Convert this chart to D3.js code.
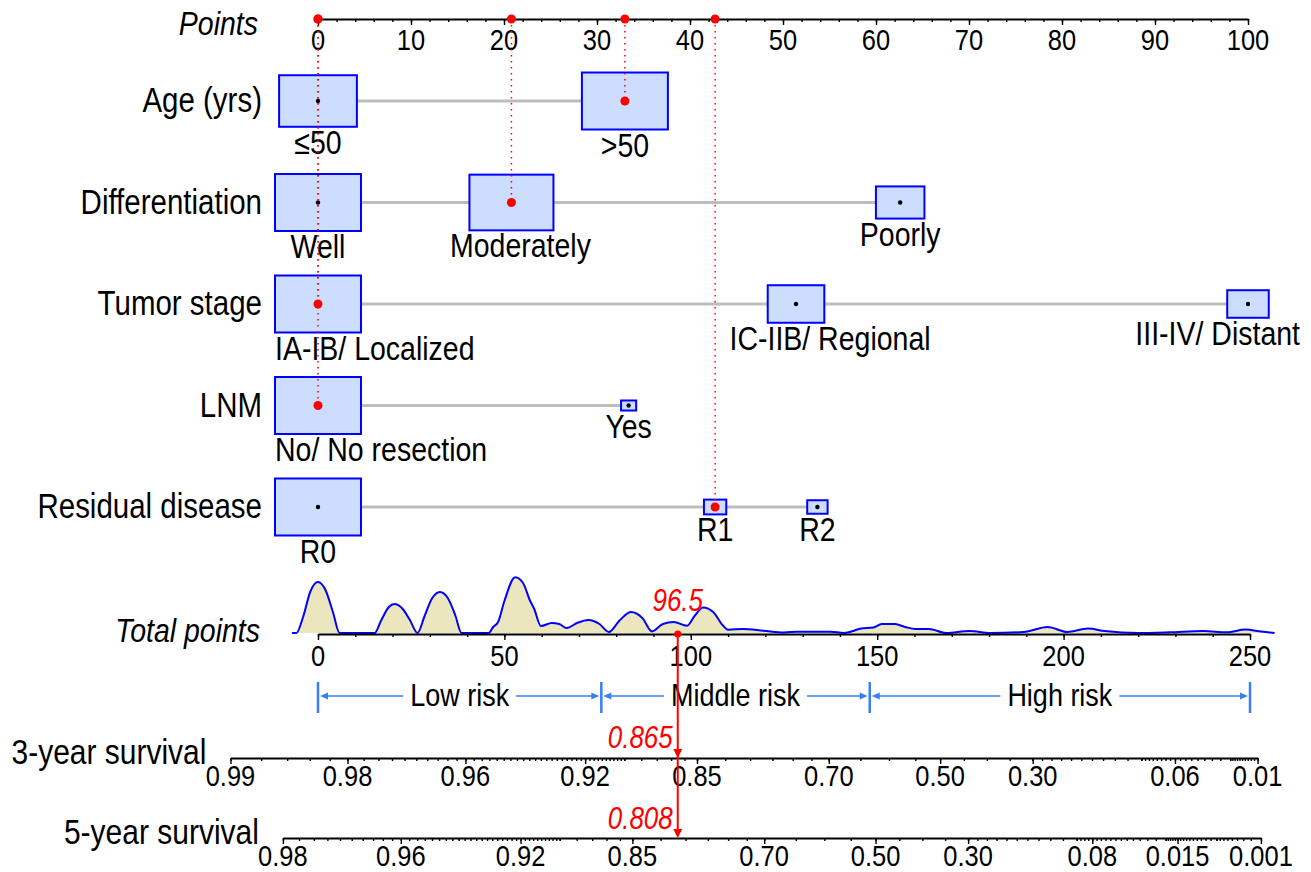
<!DOCTYPE html>
<html><head><meta charset="utf-8">
<script src="https://cdn.jsdelivr.net/npm/d3@7"></script>
<style>body{margin:0;background:#fff} svg{display:block}</style>
</head><body>
<svg id="c" width="1311" height="872"></svg>
<script>
// ---------------- DATA ----------------
const pointTicks = [0,10,20,30,40,50,60,70,80,90,100];
const totalTicks = [0,50,100,150,200,250];

const varNames = ["Age (yrs)", "Differentiation", "Tumor stage", "LNM", "Residual disease"];

const ageLevels = ["\u226450", ">50"];
const agePoints = [0, 33.0];
const ageFreq   = [45, 55];

const diffLevels = ["Well", "Moderately", "Poorly"];
const diffPoints = [0, 20.8, 62.6];
const diffFreq   = [44, 42, 14];

const stageLevels = ["IA-IB/ Localized", "IC-IIB/ Regional", "III-IV/ Distant"];
const stagePoints = [0, 51.4, 100];
const stageFreq   = [60, 26, 14];

const lnmLevels = ["No/ No resection", "Yes"];
const lnmPoints = [0, 33.4];
const lnmFreq   = [97, 3];

const resLevels = ["R0", "R1", "R2"];
const resPoints = [0, 42.7, 53.7];
const resFreq   = [89, 6, 5];

// observation being plotted (index of chosen level per variable)
const selected = [1, 1, 0, 0, 1];

// density of total points in the sample: [total points, relative density]
const densPts = [-7,-5.8,-4,-2,0,2,4,5.8,15.2,17,19,20.5,22.5,24.5,26.7,28.5,30.5,32.7,34.8,36.8,38.5,45.8,47,48.3,50,52.9,55,56.8,58,59.8,62.7,64.7,66.7,69.5,72.5,75.5,78,81,84,87,89.6,92.5,95.4,99,101,103.3,106,108.5,110,114,119.5,125,128.5,137.5,141,145.7,149,151.2,154.8,157.5,160.3,163.9,168.5,174.8,180.3,189.3,195.7,201,206.5,211,220,228.4,237.5,243.8,248.8,253,256.6];
const densVal = [0,0,16,42,51,43,21,0,0,13,26,29,25,14,0,16,34,41,35,18,0,0,6,11,32,55.7,50,33,24,7,10,9,5,10,13,9,1,13,21,15,1.6,9,11,7.3,17,25.5,21,8,3.3,4,2.3,0.5,1.3,1.3,0,4.4,5.5,8.9,8.9,6,3.9,3.9,0,2,0,1,6,1,4.4,2,0,0.7,2,0.7,3.4,1.4,0];

// risk groups (total points cut-offs)
const riskCuts  = [0, 76, 148, 250];
const riskNames = ["Low risk", "Middle risk", "High risk"];

// survival model: survival at 0 points and log-hazard per point
const beta  = 0.02224;
const base3 = 0.9832;
const base5 = 0.9754;
const surv3Labels = [0.99, 0.98, 0.96, 0.92, 0.85, 0.70, 0.50, 0.30, 0.06, 0.01];
const surv5Labels = [0.98, 0.96, 0.92, 0.85, 0.70, 0.50, 0.30, 0.08, 0.015, 0.001];
// minor tick ranges: [from, to, step]
const surv3Minor = [[0.99,0.90,0.002],[0.90,0.85,0.01],[0.85,0.70,0.025],[0.70,0.30,0.05],[0.30,0.10,0.02],[0.10,0.02,0.005],[0.02,0.01,0.001]];
const surv5Minor = [[0.98,0.90,0.002],[0.90,0.85,0.01],[0.85,0.70,0.025],[0.70,0.30,0.05],[0.30,0.10,0.02],[0.10,0.02,0.005],[0.02,0.005,0.001],[0.005,0.001,0.0005]];

// ---------------- LAYOUT ----------------
const FONT = "Arial, 'Liberation Sans', Helvetica, sans-serif";
const K = 1.18; // vertical text stretch
const svg = d3.select("#c");
const RED = "#FF0000", BLUE = "#0000FF", RISKBLUE = "#3A7EF5";

function T(parent, x, y, str, size, anchor, opt) {
  opt = opt || {};
  return parent.append("text")
    .attr("transform", `translate(${x},${y}) scale(1,${K})`)
    .attr("text-anchor", anchor || "start")
    .attr("font-family", FONT).attr("font-size", size)
    .attr("font-style", opt.italic ? "italic" : "normal")
    .attr("fill", opt.fill || "#000")
    .text(str);
}

const ptsScale = d3.scaleLinear().domain([0, 100]).range([318, 1248]);
const totScale = d3.scaleLinear().domain([0, 250]).range([318, 1250]);
const rowY = d3.scaleLinear().domain([0, 4]).range([101, 507]);

const AX_TOP = 19, AX_TOT = 634, RISK_Y = 696, AX_3 = 758, AX_5 = 838;

function axis(y, scale, majors, minors, majLen, minLen) {
  const g = svg.append("g").attr("transform", `translate(0,${y})`);
  const gm = g.append("g").call(d3.axisBottom(scale).tickValues(minors).tickSize(minLen).tickSizeOuter(0).tickFormat(""));
  gm.select(".domain").remove();
  const gM = g.append("g").call(d3.axisBottom(scale).tickValues(majors).tickSize(majLen).tickSizeOuter(0).tickFormat(""));
  g.selectAll(".domain").attr("stroke", "#000").attr("stroke-width", 2);
  g.selectAll(".tick line").attr("stroke", "#000").attr("stroke-width", 1.4);
  return g;
}

// ---- Points axis ----
axis(AX_TOP, ptsScale, pointTicks, d3.range(0, 101, 2), 6, 3);
pointTicks.forEach(v => T(svg, ptsScale(v), 50, String(v), 25.5, "middle"));
T(svg, 258, 35, "Points", 28.5, "end", {italic: true});

// ---- Variable rows ----
const variables = [
  {levels: ageLevels,   pts: agePoints,   freq: ageFreq},
  {levels: diffLevels,  pts: diffPoints,  freq: diffFreq},
  {levels: stageLevels, pts: stagePoints, freq: stageFreq},
  {levels: lnmLevels,   pts: lnmPoints,   freq: lnmFreq},
  {levels: resLevels,   pts: resPoints,   freq: resFreq}
];
const BOXW = 86, BOXH = 57;
const labelNudge = {"Moderately": 9, "IC-IIB/ Regional": 34};
const rowsG = svg.append("g");
const dotsG = svg.append("g");
const selPts = [];

variables.forEach((v, i) => {
  const y = rowY(i);
  T(rowsG, 262, y + 11, varNames[i], 29.5, "end");
  rowsG.append("line")
    .attr("x1", ptsScale(d3.min(v.pts))).attr("x2", ptsScale(d3.max(v.pts)))
    .attr("y1", y).attr("y2", y)
    .attr("stroke", "#BDBDBD").attr("stroke-width", 3);
  const maxF = d3.max(v.freq);
  v.levels.forEach((lev, j) => {
    const cx = ptsScale(v.pts[j]);
    const r = Math.sqrt(v.freq[j] / maxF);
    const w = BOXW * r, h = BOXH * r;
    rowsG.append("rect").attr("x", cx - w / 2).attr("y", y - h / 2)
      .attr("width", w).attr("height", h)
      .attr("fill", "#CCDDFF").attr("stroke", BLUE).attr("stroke-width", 2);
    const t = T(rowsG, 0, 0, lev, 28.5, "middle");
    const tw = t.node().getComputedTextLength();
    let lx = cx + (labelNudge[lev] || 0);
    lx = Math.max(lx, 275 + tw / 2);
    lx = Math.min(lx, 1300 - tw / 2);
    t.attr("transform", `translate(${lx},${y + h / 2 + 27}) scale(1,${K})`);
    if (j === selected[i]) {
      selPts.push(v.pts[j]);
      dotsG.append("line").attr("x1", cx).attr("x2", cx).attr("y1", AX_TOP).attr("y2", y)
        .attr("stroke", RED).attr("stroke-width", 1.5).attr("stroke-dasharray", "1.5,4.5");
      dotsG.append("circle").attr("cx", cx).attr("cy", y).attr("r", 4.5).attr("fill", RED);
      dotsG.append("circle").attr("cx", cx).attr("cy", AX_TOP).attr("r", 4.5).attr("fill", RED);
    } else {
      rowsG.append("circle").attr("cx", cx).attr("cy", y).attr("r", 2.2).attr("fill", "#000");
    }
  });
});

const totalPts = d3.sum(selPts);

// ---- Density of total points ----
const dens = densPts.map((p, i) => [p, densVal[i]]);
const dScale = d3.scaleLinear().domain([0, 56]).range([AX_TOT - 1, AX_TOT - 57]);
svg.append("path").datum(dens)
  .attr("d", d3.area().x(d => totScale(d[0])).y0(AX_TOT - 1).y1(d => dScale(d[1])).curve(d3.curveMonotoneX))
  .attr("fill", "#ECE6BE");
svg.append("path").datum(dens)
  .attr("d", d3.line().x(d => totScale(d[0])).y(d => dScale(d[1])).curve(d3.curveMonotoneX))
  .attr("fill", "none").attr("stroke", BLUE).attr("stroke-width", 2);

// ---- Total points axis ----
axis(AX_TOT, totScale, totalTicks, d3.range(0, 251, 10), 6, 3);
totalTicks.forEach(v => T(svg, totScale(v), 666, String(v), 25.5, "middle"));
T(svg, 260, 642, "Total points", 28.5, "end", {italic: true});

// ---- Risk groups ----
const riskG = svg.append("g");
function arrowHead(g, x, y, dir) {
  g.append("path").attr("d", `M${x},${y} l${-dir * 8},-3.5 l0,7 z`).attr("fill", RISKBLUE);
}
riskCuts.forEach(c => {
  riskG.append("line").attr("x1", totScale(c)).attr("x2", totScale(c))
    .attr("y1", RISK_Y - 14).attr("y2", RISK_Y + 17)
    .attr("stroke", RISKBLUE).attr("stroke-width", 2.5);
});
riskNames.forEach((name, i) => {
  const x0 = totScale(riskCuts[i]) + 2, x1 = totScale(riskCuts[i + 1]) - 2;
  const mid = (totScale(riskCuts[i]) + totScale(riskCuts[i + 1])) / 2;
  const t = T(riskG, mid, RISK_Y + 10, name, 27, "middle");
  const tw = t.node().getComputedTextLength();
  riskG.append("line").attr("x1", x0 + 4).attr("x2", mid - tw / 2 - 7).attr("y1", RISK_Y).attr("y2", RISK_Y)
    .attr("stroke", RISKBLUE).attr("stroke-width", 1.6);
  riskG.append("line").attr("x1", mid + tw / 2 + 7).attr("x2", x1 - 4).attr("y1", RISK_Y).attr("y2", RISK_Y)
    .attr("stroke", RISKBLUE).attr("stroke-width", 1.6);
  arrowHead(riskG, x0, RISK_Y, -1);
  arrowHead(riskG, x1, RISK_Y, 1);
});

// ---- Survival axes ----
const cll = s => Math.log(-Math.log(s));
const survFmt = v => { let s = d3.format(".2f")(v); if (Math.abs(+s - v) > 1e-9) s = d3.format(".3f")(v); return s; };
function minorList(spec) {
  const out = [];
  spec.forEach(([a, b, st]) => {
    const n = Math.round((a - b) / st);
    for (let k = 0; k <= n; k++) out.push(+(a - k * st).toFixed(5));
  });
  return out;
}
function survAxis(y, base, labels, minorSpec, title, baseline) {
  const toPts = s => (cll(s) - cll(base)) / beta;
  const pA = toPts(labels[0]), pB = toPts(labels[labels.length - 1]);
  const sc = d3.scaleLinear().domain([pA, pB]).range([totScale(pA), totScale(pB)]);
  axis(y, sc, labels.map(toPts), minorList(minorSpec).map(toPts), 6, 3);
  labels.forEach(s => T(svg, sc(toPts(s)), baseline, survFmt(s), 25.5, "middle"));
  T(svg, totScale(pA) - 24, y + 6, title, 30, "end");
  return s => 0;
}
survAxis(AX_3, base3, surv3Labels, surv3Minor, "3-year survival", 786);
survAxis(AX_5, base5, surv5Labels, surv5Minor, "5-year survival", 866);

// ---- Observation: red line ----
const xObs = totScale(totalPts);
const s3 = Math.exp(-Math.exp(cll(base3) + beta * totalPts));
const s5 = Math.exp(-Math.exp(cll(base5) + beta * totalPts));
const obsG = svg.append("g");
obsG.append("line").attr("x1", xObs).attr("x2", xObs).attr("y1", AX_TOT).attr("y2", AX_5 - 2)
  .attr("stroke", RED).attr("stroke-width", 2);
[AX_3, AX_5].forEach(yy => {
  obsG.append("path").attr("d", `M${xObs},${yy} l-4.5,-9 l9,0 z`).attr("fill", RED);
});
obsG.append("circle").attr("cx", xObs).attr("cy", AX_TOT).attr("r", 3.5).attr("fill", RED);
T(obsG, xObs, 611, d3.format(".1f")(totalPts), 26, "middle", {italic: true, fill: RED});
T(obsG, xObs - 5, 748, d3.format(".3f")(s3), 26, "end", {italic: true, fill: RED});
T(obsG, xObs - 5, 829, d3.format(".3f")(s5), 26, "end", {italic: true, fill: RED});
</script>
</body></html>
